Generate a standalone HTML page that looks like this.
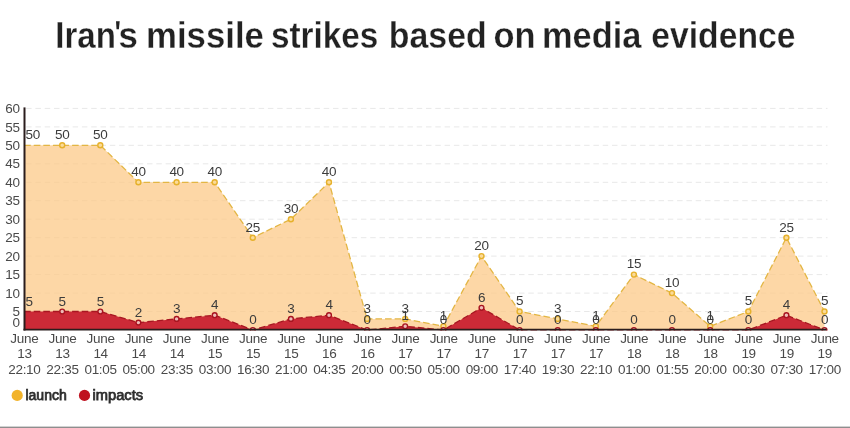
<!DOCTYPE html>
<html><head><meta charset="utf-8"><title>Iran's missile strikes based on media evidence</title>
<style>
html,body{margin:0;padding:0;background:#fff;}
body{width:850px;height:428px;overflow:hidden;position:relative;font-family:"Liberation Sans",sans-serif;}
svg{position:absolute;left:0;top:0;display:block;will-change:transform;}
text{font-family:"Liberation Sans",sans-serif;}
.title{font-size:37px;font-weight:bold;fill:#222222;stroke:#ffffff;stroke-width:0.3px;}
.yl{font-size:13.5px;letter-spacing:-0.3px;fill:#4a4a4a;text-anchor:end;}
.xl{font-size:13.5px;letter-spacing:-0.3px;fill:#4a4a4a;text-anchor:middle;}
.dl{font-size:13.5px;letter-spacing:-0.3px;fill:#3c3c3c;text-anchor:middle;}
.lg{font-size:14px;fill:#2e2e2e;stroke:#2e2e2e;stroke-width:0.75px;}
</style></head><body>
<svg width="850" height="428" viewBox="0 0 850 428">
<rect x="0" y="0" width="850" height="428" fill="#ffffff"/>
<defs><clipPath id="cp"><rect x="0" y="90" width="850" height="240.5"/></clipPath></defs>
<text class="title" x="55.31" y="47.5" textLength="60.65" lengthAdjust="spacingAndGlyphs">Iran</text>
<text class="title" x="118.52" y="47.5" textLength="19.37" lengthAdjust="spacingAndGlyphs">s</text>
<text class="title" x="145.98" y="47.5" textLength="118.02" lengthAdjust="spacingAndGlyphs">missile</text>
<text class="title" x="270.9" y="47.5" textLength="107.48" lengthAdjust="spacingAndGlyphs">strikes</text>
<text class="title" x="388.87" y="47.5" textLength="97.82" lengthAdjust="spacingAndGlyphs">based</text>
<text class="title" x="493.54" y="47.5" textLength="42.01" lengthAdjust="spacingAndGlyphs">on</text>
<text class="title" x="542.01" y="47.5" textLength="99.33" lengthAdjust="spacingAndGlyphs">media</text>
<text class="title" x="651.28" y="47.5" textLength="144.17" lengthAdjust="spacingAndGlyphs">evidence</text>
<polygon points="116,21.3 119.7,21.3 118.9,29.3 116.5,29.3" fill="#222222"/>
<line x1="26.1" y1="311.5" x2="827.5" y2="311.5" stroke="#e8e8e8" stroke-width="1" stroke-dasharray="5.5 3.8"/>
<line x1="26.1" y1="293.1" x2="827.5" y2="293.1" stroke="#e8e8e8" stroke-width="1" stroke-dasharray="5.5 3.8"/>
<line x1="26.1" y1="274.6" x2="827.5" y2="274.6" stroke="#e8e8e8" stroke-width="1" stroke-dasharray="5.5 3.8"/>
<line x1="26.1" y1="256.1" x2="827.5" y2="256.1" stroke="#e8e8e8" stroke-width="1" stroke-dasharray="5.5 3.8"/>
<line x1="26.1" y1="237.7" x2="827.5" y2="237.7" stroke="#e8e8e8" stroke-width="1" stroke-dasharray="5.5 3.8"/>
<line x1="26.1" y1="219.2" x2="827.5" y2="219.2" stroke="#e8e8e8" stroke-width="1" stroke-dasharray="5.5 3.8"/>
<line x1="26.1" y1="200.7" x2="827.5" y2="200.7" stroke="#e8e8e8" stroke-width="1" stroke-dasharray="5.5 3.8"/>
<line x1="26.1" y1="182.3" x2="827.5" y2="182.3" stroke="#e8e8e8" stroke-width="1" stroke-dasharray="5.5 3.8"/>
<line x1="26.1" y1="163.8" x2="827.5" y2="163.8" stroke="#e8e8e8" stroke-width="1" stroke-dasharray="5.5 3.8"/>
<line x1="26.1" y1="145.3" x2="827.5" y2="145.3" stroke="#e8e8e8" stroke-width="1" stroke-dasharray="5.5 3.8"/>
<line x1="26.1" y1="126.9" x2="827.5" y2="126.9" stroke="#e8e8e8" stroke-width="1" stroke-dasharray="5.5 3.8"/>
<line x1="26.1" y1="108.4" x2="827.5" y2="108.4" stroke="#e8e8e8" stroke-width="1" stroke-dasharray="5.5 3.8"/>
<g clip-path="url(#cp)">
<polygon points="24.1,330.0 24.1,145.3 62.2,145.3 100.3,145.3 138.4,182.3 176.6,182.3 214.7,182.3 252.8,237.7 290.9,219.2 329.0,182.3 367.1,318.9 405.2,318.9 443.4,326.3 481.5,256.1 519.6,311.5 557.7,318.9 595.8,326.3 633.9,274.6 672.0,293.1 710.2,326.3 748.3,311.5 786.4,237.7 824.5,311.5 824.5,330.0" fill="#fcca88" fill-opacity="0.75"/>
<polyline points="24.1,145.3 62.2,145.3 100.3,145.3 138.4,182.3 176.6,182.3 214.7,182.3 252.8,237.7 290.9,219.2 329.0,182.3 367.1,318.9 405.2,318.9 443.4,326.3 481.5,256.1 519.6,311.5 557.7,318.9 595.8,326.3 633.9,274.6 672.0,293.1 710.2,326.3 748.3,311.5 786.4,237.7 824.5,311.5" fill="none" stroke="#e3b644" stroke-width="1.3" stroke-dasharray="6.6 3"/>
<circle cx="62.2" cy="145.3" r="2.5" fill="#fbdb9a" stroke="#e6b12c" stroke-width="1.4"/>
<circle cx="100.3" cy="145.3" r="2.5" fill="#fbdb9a" stroke="#e6b12c" stroke-width="1.4"/>
<circle cx="138.4" cy="182.3" r="2.5" fill="#fbdb9a" stroke="#e6b12c" stroke-width="1.4"/>
<circle cx="176.6" cy="182.3" r="2.5" fill="#fbdb9a" stroke="#e6b12c" stroke-width="1.4"/>
<circle cx="214.7" cy="182.3" r="2.5" fill="#fbdb9a" stroke="#e6b12c" stroke-width="1.4"/>
<circle cx="252.8" cy="237.7" r="2.5" fill="#fbdb9a" stroke="#e6b12c" stroke-width="1.4"/>
<circle cx="290.9" cy="219.2" r="2.5" fill="#fbdb9a" stroke="#e6b12c" stroke-width="1.4"/>
<circle cx="329.0" cy="182.3" r="2.5" fill="#fbdb9a" stroke="#e6b12c" stroke-width="1.4"/>
<circle cx="367.1" cy="318.9" r="2.5" fill="#fbdb9a" stroke="#e6b12c" stroke-width="1.4"/>
<circle cx="405.2" cy="318.9" r="2.5" fill="#fbdb9a" stroke="#e6b12c" stroke-width="1.4"/>
<circle cx="443.4" cy="326.3" r="2.5" fill="#fbdb9a" stroke="#e6b12c" stroke-width="1.4"/>
<circle cx="481.5" cy="256.1" r="2.5" fill="#fbdb9a" stroke="#e6b12c" stroke-width="1.4"/>
<circle cx="519.6" cy="311.5" r="2.5" fill="#fbdb9a" stroke="#e6b12c" stroke-width="1.4"/>
<circle cx="557.7" cy="318.9" r="2.5" fill="#fbdb9a" stroke="#e6b12c" stroke-width="1.4"/>
<circle cx="595.8" cy="326.3" r="2.5" fill="#fbdb9a" stroke="#e6b12c" stroke-width="1.4"/>
<circle cx="633.9" cy="274.6" r="2.5" fill="#fbdb9a" stroke="#e6b12c" stroke-width="1.4"/>
<circle cx="672.0" cy="293.1" r="2.5" fill="#fbdb9a" stroke="#e6b12c" stroke-width="1.4"/>
<circle cx="710.2" cy="326.3" r="2.5" fill="#fbdb9a" stroke="#e6b12c" stroke-width="1.4"/>
<circle cx="748.3" cy="311.5" r="2.5" fill="#fbdb9a" stroke="#e6b12c" stroke-width="1.4"/>
<circle cx="786.4" cy="237.7" r="2.5" fill="#fbdb9a" stroke="#e6b12c" stroke-width="1.4"/>
<circle cx="824.5" cy="311.5" r="2.5" fill="#fbdb9a" stroke="#e6b12c" stroke-width="1.4"/>
<polygon points="24.1,330.0 24.1,311.5 62.2,311.5 100.3,311.5 138.4,322.6 176.6,318.9 214.7,315.2 252.8,330.0 290.9,318.9 329.0,315.2 367.1,330.0 405.2,326.3 443.4,330.0 481.5,307.8 519.6,330.0 557.7,330.0 595.8,330.0 633.9,330.0 672.0,330.0 710.2,330.0 748.3,330.0 786.4,315.2 824.5,330.0 824.5,330.0" fill="#cc2a37"/>
<polyline points="24.1,311.5 62.2,311.5 100.3,311.5 138.4,322.6 176.6,318.9 214.7,315.2 252.8,330.0 290.9,318.9 329.0,315.2 367.1,330.0 405.2,326.3 443.4,330.0 481.5,307.8 519.6,330.0 557.7,330.0 595.8,330.0 633.9,330.0 672.0,330.0 710.2,330.0 748.3,330.0 786.4,315.2 824.5,330.0" fill="none" stroke="#a81722" stroke-width="1.3" stroke-dasharray="6.6 3"/>
<circle cx="62.2" cy="311.5" r="2.4" fill="#efbcb8" stroke="#a81420" stroke-width="1.4"/>
<circle cx="100.3" cy="311.5" r="2.4" fill="#efbcb8" stroke="#a81420" stroke-width="1.4"/>
<circle cx="138.4" cy="322.6" r="2.4" fill="#efbcb8" stroke="#a81420" stroke-width="1.4"/>
<circle cx="176.6" cy="318.9" r="2.4" fill="#efbcb8" stroke="#a81420" stroke-width="1.4"/>
<circle cx="214.7" cy="315.2" r="2.4" fill="#efbcb8" stroke="#a81420" stroke-width="1.4"/>
<circle cx="252.8" cy="330.0" r="2.4" fill="#efbcb8" stroke="#a81420" stroke-width="1.4"/>
<circle cx="290.9" cy="318.9" r="2.4" fill="#efbcb8" stroke="#a81420" stroke-width="1.4"/>
<circle cx="329.0" cy="315.2" r="2.4" fill="#efbcb8" stroke="#a81420" stroke-width="1.4"/>
<circle cx="367.1" cy="330.0" r="2.4" fill="#efbcb8" stroke="#a81420" stroke-width="1.4"/>
<circle cx="405.2" cy="326.3" r="2.4" fill="#efbcb8" stroke="#a81420" stroke-width="1.4"/>
<circle cx="443.4" cy="330.0" r="2.4" fill="#efbcb8" stroke="#a81420" stroke-width="1.4"/>
<circle cx="481.5" cy="307.8" r="2.4" fill="#efbcb8" stroke="#a81420" stroke-width="1.4"/>
<circle cx="519.6" cy="330.0" r="2.4" fill="#efbcb8" stroke="#a81420" stroke-width="1.4"/>
<circle cx="557.7" cy="330.0" r="2.4" fill="#efbcb8" stroke="#a81420" stroke-width="1.4"/>
<circle cx="595.8" cy="330.0" r="2.4" fill="#efbcb8" stroke="#a81420" stroke-width="1.4"/>
<circle cx="633.9" cy="330.0" r="2.4" fill="#efbcb8" stroke="#a81420" stroke-width="1.4"/>
<circle cx="672.0" cy="330.0" r="2.4" fill="#efbcb8" stroke="#a81420" stroke-width="1.4"/>
<circle cx="710.2" cy="330.0" r="2.4" fill="#efbcb8" stroke="#a81420" stroke-width="1.4"/>
<circle cx="748.3" cy="330.0" r="2.4" fill="#efbcb8" stroke="#a81420" stroke-width="1.4"/>
<circle cx="786.4" cy="315.2" r="2.4" fill="#efbcb8" stroke="#a81420" stroke-width="1.4"/>
<circle cx="824.5" cy="330.0" r="2.4" fill="#efbcb8" stroke="#a81420" stroke-width="1.4"/>
</g>
<line x1="24.5" y1="107.4" x2="24.5" y2="330.5" stroke="#2a1d1d" stroke-width="2"/>
<line x1="23.5" y1="329.6" x2="826.5" y2="329.6" stroke="#2a1d1d" stroke-width="1.8"/>
<text class="yl" x="19.6" y="316.1">5</text>
<text class="yl" x="19.6" y="297.7">10</text>
<text class="yl" x="19.6" y="279.2">15</text>
<text class="yl" x="19.6" y="260.7">20</text>
<text class="yl" x="19.6" y="242.3">25</text>
<text class="yl" x="19.6" y="223.8">30</text>
<text class="yl" x="19.6" y="205.3">35</text>
<text class="yl" x="19.6" y="186.9">40</text>
<text class="yl" x="19.6" y="168.4">45</text>
<text class="yl" x="19.6" y="149.9">50</text>
<text class="yl" x="19.6" y="131.5">55</text>
<text class="yl" x="19.6" y="113.0">60</text>
<text class="yl" x="19.6" y="327.1">0</text>
<text class="dl" style="text-anchor:start" x="25.6" y="139.2">50</text>
<text class="dl" x="62.2" y="139.2">50</text>
<text class="dl" x="100.3" y="139.2">50</text>
<text class="dl" x="138.4" y="176.1">40</text>
<text class="dl" x="176.6" y="176.1">40</text>
<text class="dl" x="214.7" y="176.1">40</text>
<text class="dl" x="252.8" y="231.5">25</text>
<text class="dl" x="290.9" y="213.0">30</text>
<text class="dl" x="329.0" y="176.1">40</text>
<text class="dl" x="367.1" y="312.7">3</text>
<text class="dl" x="405.2" y="312.7">3</text>
<text class="dl" x="443.4" y="320.1">1</text>
<text class="dl" x="481.5" y="249.9">20</text>
<text class="dl" x="519.6" y="305.3">5</text>
<text class="dl" x="557.7" y="312.7">3</text>
<text class="dl" x="595.8" y="320.1">1</text>
<text class="dl" x="633.9" y="268.4">15</text>
<text class="dl" x="672.0" y="286.9">10</text>
<text class="dl" x="710.2" y="320.1">1</text>
<text class="dl" x="748.3" y="305.3">5</text>
<text class="dl" x="786.4" y="231.5">25</text>
<text class="dl" x="824.5" y="305.3">5</text>
<text class="dl" style="text-anchor:start" x="25.6" y="305.6">5</text>
<text class="dl" x="62.2" y="305.6">5</text>
<text class="dl" x="100.3" y="305.6">5</text>
<text class="dl" x="138.4" y="316.7">2</text>
<text class="dl" x="176.6" y="313.0">3</text>
<text class="dl" x="214.7" y="309.3">4</text>
<text class="dl" x="252.8" y="324.1">0</text>
<text class="dl" x="290.9" y="313.0">3</text>
<text class="dl" x="329.0" y="309.3">4</text>
<text class="dl" x="367.1" y="324.1">0</text>
<text class="dl" x="405.2" y="320.4">1</text>
<text class="dl" x="443.4" y="324.1">0</text>
<text class="dl" x="481.5" y="301.9">6</text>
<text class="dl" x="519.6" y="324.1">0</text>
<text class="dl" x="557.7" y="324.1">0</text>
<text class="dl" x="595.8" y="324.1">0</text>
<text class="dl" x="633.9" y="324.1">0</text>
<text class="dl" x="672.0" y="324.1">0</text>
<text class="dl" x="710.2" y="324.1">0</text>
<text class="dl" x="748.3" y="324.1">0</text>
<text class="dl" x="786.4" y="309.3">4</text>
<text class="dl" x="824.5" y="324.1">0</text>
<text class="xl" x="24.4" y="342.9">June</text>
<text class="xl" x="24.4" y="358.2">13</text>
<text class="xl" x="24.4" y="373.9">22:10</text>
<text class="xl" x="62.5" y="342.9">June</text>
<text class="xl" x="62.5" y="358.2">13</text>
<text class="xl" x="62.5" y="373.9">22:35</text>
<text class="xl" x="100.6" y="342.9">June</text>
<text class="xl" x="100.6" y="358.2">14</text>
<text class="xl" x="100.6" y="373.9">01:05</text>
<text class="xl" x="138.7" y="342.9">June</text>
<text class="xl" x="138.7" y="358.2">14</text>
<text class="xl" x="138.7" y="373.9">05:00</text>
<text class="xl" x="176.9" y="342.9">June</text>
<text class="xl" x="176.9" y="358.2">14</text>
<text class="xl" x="176.9" y="373.9">23:35</text>
<text class="xl" x="215.0" y="342.9">June</text>
<text class="xl" x="215.0" y="358.2">15</text>
<text class="xl" x="215.0" y="373.9">03:00</text>
<text class="xl" x="253.1" y="342.9">June</text>
<text class="xl" x="253.1" y="358.2">15</text>
<text class="xl" x="253.1" y="373.9">16:30</text>
<text class="xl" x="291.2" y="342.9">June</text>
<text class="xl" x="291.2" y="358.2">15</text>
<text class="xl" x="291.2" y="373.9">21:00</text>
<text class="xl" x="329.3" y="342.9">June</text>
<text class="xl" x="329.3" y="358.2">16</text>
<text class="xl" x="329.3" y="373.9">04:35</text>
<text class="xl" x="367.4" y="342.9">June</text>
<text class="xl" x="367.4" y="358.2">16</text>
<text class="xl" x="367.4" y="373.9">20:00</text>
<text class="xl" x="405.5" y="342.9">June</text>
<text class="xl" x="405.5" y="358.2">17</text>
<text class="xl" x="405.5" y="373.9">00:50</text>
<text class="xl" x="443.7" y="342.9">June</text>
<text class="xl" x="443.7" y="358.2">17</text>
<text class="xl" x="443.7" y="373.9">05:00</text>
<text class="xl" x="481.8" y="342.9">June</text>
<text class="xl" x="481.8" y="358.2">17</text>
<text class="xl" x="481.8" y="373.9">09:00</text>
<text class="xl" x="519.9" y="342.9">June</text>
<text class="xl" x="519.9" y="358.2">17</text>
<text class="xl" x="519.9" y="373.9">17:40</text>
<text class="xl" x="558.0" y="342.9">June</text>
<text class="xl" x="558.0" y="358.2">17</text>
<text class="xl" x="558.0" y="373.9">19:30</text>
<text class="xl" x="596.1" y="342.9">June</text>
<text class="xl" x="596.1" y="358.2">17</text>
<text class="xl" x="596.1" y="373.9">22:10</text>
<text class="xl" x="634.2" y="342.9">June</text>
<text class="xl" x="634.2" y="358.2">18</text>
<text class="xl" x="634.2" y="373.9">01:00</text>
<text class="xl" x="672.3" y="342.9">June</text>
<text class="xl" x="672.3" y="358.2">18</text>
<text class="xl" x="672.3" y="373.9">01:55</text>
<text class="xl" x="710.5" y="342.9">June</text>
<text class="xl" x="710.5" y="358.2">18</text>
<text class="xl" x="710.5" y="373.9">20:00</text>
<text class="xl" x="748.6" y="342.9">June</text>
<text class="xl" x="748.6" y="358.2">19</text>
<text class="xl" x="748.6" y="373.9">00:30</text>
<text class="xl" x="786.7" y="342.9">June</text>
<text class="xl" x="786.7" y="358.2">19</text>
<text class="xl" x="786.7" y="373.9">07:30</text>
<text class="xl" x="824.8" y="342.9">June</text>
<text class="xl" x="824.8" y="358.2">19</text>
<text class="xl" x="824.8" y="373.9">17:00</text>
<circle cx="17.2" cy="395.4" r="5.6" fill="#f2b32a"/>
<text class="lg" x="25.4" y="400" textLength="41.4" lengthAdjust="spacingAndGlyphs">launch</text>
<circle cx="84.5" cy="395.4" r="5.6" fill="#bf1220"/>
<text class="lg" x="92.5" y="400" textLength="50.6" lengthAdjust="spacingAndGlyphs">impacts</text>
<rect x="0" y="426" width="850" height="1" fill="#d2d2d2"/>
<rect x="0" y="427" width="850" height="1" fill="#8e8e8e"/>
</svg>
</body></html>
